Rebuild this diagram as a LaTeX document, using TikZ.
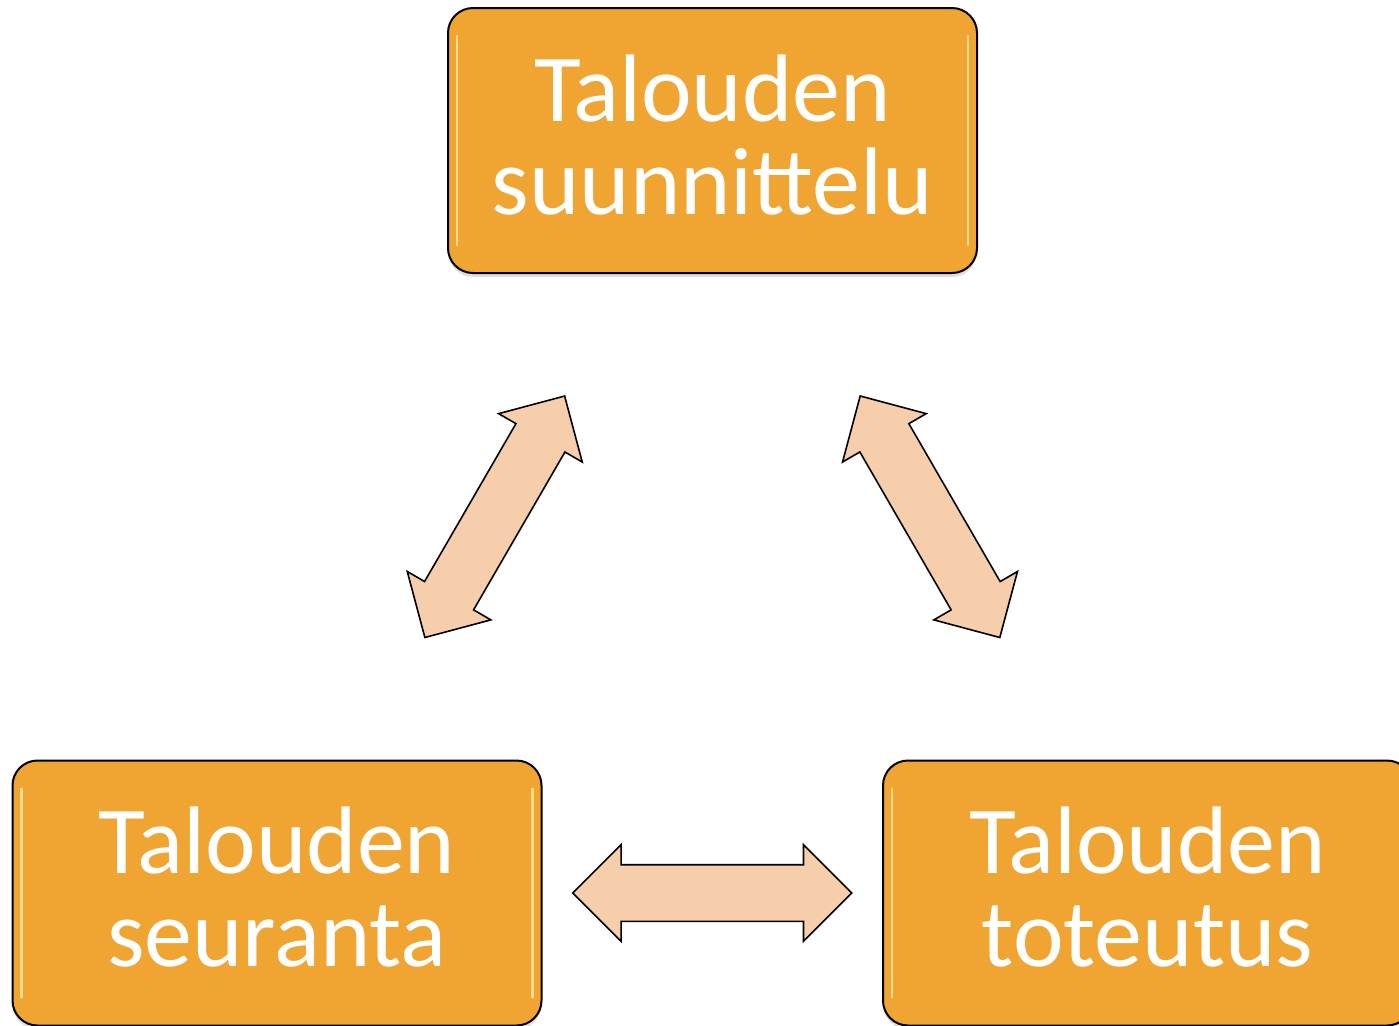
\documentclass[tikz,border=0pt]{standalone}
\usepackage{fontspec}
\setmainfont{Carlito}
\usetikzlibrary{shapes.arrows,shadows}
\definecolor{boxorange}{RGB}{240,164,50}
\definecolor{boxlight}{RGB}{255,236,160}
\definecolor{arrowpeach}{RGB}{246,206,172}
\tikzset{
  box/.style={draw=black, line width=1pt, fill=boxorange, rounded corners=12.5pt,
    minimum width=264.5pt, minimum height=132.5pt, align=center, text=white,
    font=\fontsize{48}{46.5}\selectfont,
    drop shadow={shadow xshift=0pt, shadow yshift=-2pt, opacity=0.25},
    path picture={
      \draw[boxlight, line width=1.2pt, line cap=round, opacity=0.8]
        ([xshift=4.5pt,yshift=-14pt]path picture bounding box.north west) --
        ([xshift=4.5pt,yshift=14pt]path picture bounding box.south west);
      \draw[boxlight, line width=1.2pt, line cap=round, opacity=0.8]
        ([xshift=-4.5pt,yshift=-14pt]path picture bounding box.north east) --
        ([xshift=-4.5pt,yshift=14pt]path picture bounding box.south east);
    }},
  boxtext/.style={text=white, align=center, font=\fontsize{48}{46.5}\selectfont},
  dblarrow/.style={double arrow, draw=black, line width=0.8pt, fill=arrowpeach,
    minimum height=139.5pt, minimum width=0pt, inner xsep=0pt, inner ysep=13.75pt,
    double arrow head extend=10pt, double arrow tip angle=90, sloped}
}
\begin{document}
\begin{tikzpicture}[x=0.5pt,y=-0.5pt]
        \clip (0,0) rectangle (1399,1025);
        \node[box] (A) at (712.5,140.5) {};
        \node[box] (B) at (277,893) {};
        \node[box] (C) at (1147.5,893) {};
        % labels sit a little above the box centres
        \node[boxtext] (a) at (712.5,135) {Talouden\\suunnittelu};
        \node[boxtext] (b) at (277,887.5) {Talouden\\seuranta};
        \node[boxtext] (c) at (1147.5,887.5) {Talouden\\toteutus};

        \path (A.center) -- node[dblarrow]{} (B.center);
        \path (A.center) -- node[dblarrow]{} (C.center);
        \path (B.center) -- node[dblarrow]{} (C.center);
      \end{tikzpicture}
\end{document}
